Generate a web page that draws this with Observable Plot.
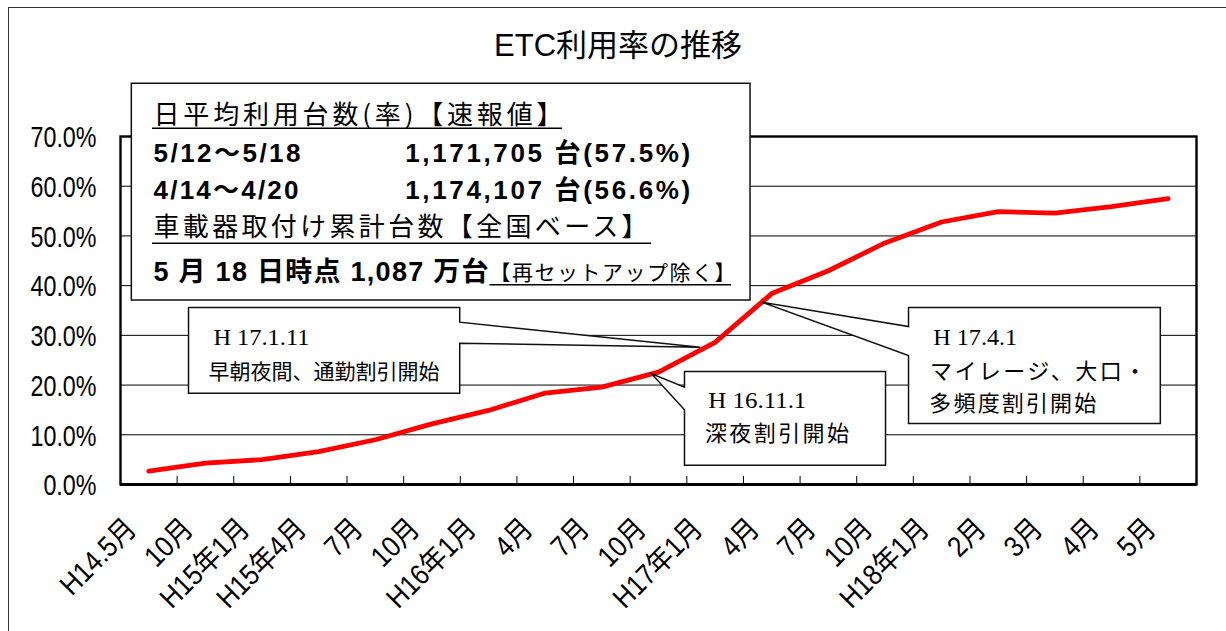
<!DOCTYPE html>
<html>
<head>
<meta charset="utf-8">
<script src="https://cdn.jsdelivr.net/npm/d3@7"></script>
<script src="https://cdn.jsdelivr.net/npm/@observablehq/plot@0.6"></script>
<style>
html, body { margin: 0; padding: 0; background: #fff; width: 1226px; height: 631px; overflow: hidden; }
#chart { position: absolute; left: 0; top: 0; }
#border { position: absolute; left: 8px; top: 7px; width: 1400px; height: 800px; border: 1.5px solid #333; pointer-events: none; }
</style>
</head>
<body>
<div id="chart"></div>
<div id="border"></div>
<script>
// ---------- data ----------
const categories = ["H14.5月","10月","H15年1月","H15年4月","7月","10月","H16年1月","4月","7月","10月","H17年1月","4月","7月","10月","H18年1月","2月","3月","4月","5月"];
const rates = [2.7, 4.3, 5.0, 6.6, 9.0, 12.2, 14.9, 18.4, 19.6, 22.6, 28.6, 38.4, 43.0, 48.6, 52.8, 54.9, 54.6, 55.9, 57.5];
const yTicks = [0, 10, 20, 30, 40, 50, 60, 70];
const chartTitle = "ETC利用率の推移";
const infoHeading = "日平均利用台数(率)【速報値】";
const weekPeriods = ["5/12～5/18", "4/14～4/20"];
const weekCounts = ["1,171,705 台(57.5%)", "1,174,107 台(56.6%)"];
const installHeading = "車載器取付け累計台数【全国ベース】";
const installTotal = "5 月 18 日時点 1,087 万台";
const installNote = "【再セットアップ除く】";
const calloutDates = ["H 17.1.11", "H 16.11.1", "H 17.4.1"];
const calloutNotes = [["早朝夜間、通勤割引開始"], ["深夜割引開始"], ["マイレージ、大口・", "多頻度割引開始"]];

// ---------- styling / layout ----------
const SANS = "'Liberation Sans','Noto Sans CJK JP',sans-serif";
const CJK = "'Noto Sans CJK JP','Liberation Sans',sans-serif";
const SERIF = "'Liberation Serif','Noto Sans CJK JP',serif";
const pct = d => d.toFixed(1) + "%";

// callout outlines in data units (x: category index units, y: percent)
const calloutShapes = [
  [[1.201,35.61],[5.99,35.61],[5.99,32.65],[10.235,27.62],[5.99,28.42],[5.99,18.37],[1.201,18.37],[1.201,35.61]],
  [[9.959,22.73],[13.509,22.73],[13.509,3.88],[9.959,3.88],[9.959,15.03],[9.377,22.27],[9.959,19.57],[9.959,22.73]],
  [[13.915,35.61],[18.361,35.61],[18.361,12.27],[13.915,12.27],[13.915,25.95],[11.326,36.67],[13.915,31.78],[13.915,35.61]]
];

const txt = (s, o) => Plot.text([s], {text: d => d, textAnchor: "start", lineAnchor: "bottom", fill: "#000", ...o});
const underline = (s, o) => Plot.ruleY([s], {stroke: "#000", strokeWidth: 1.5, ...o});

const plot = Plot.plot({
  width: 1226,
  height: 631,
  marginLeft: 120,
  marginRight: 30,
  marginTop: 136,
  marginBottom: 147,
  style: {background: "transparent", overflow: "visible"},
  x: {type: "linear", domain: [0, categories.length], axis: null},
  y: {type: "linear", domain: [0, 70], axis: null},
  marks: [
    Plot.ruleY(yTicks.filter(v => v > 0 && v < 70), {stroke: "#000", strokeWidth: 1}),
    Plot.frame({stroke: "#000", strokeWidth: 2.4}),
    Plot.ruleY([0], {stroke: "#000", strokeWidth: 3}),
    Plot.ruleX(categories.slice(1), {x: (d, i) => i + 1, y1: 0, y2: 1.6, stroke: "#000", strokeWidth: 1}),
    Plot.text(yTicks, {x: 0, y: d => d, text: pct, textAnchor: "end", dx: -24, dy: 1.5, fontSize: 28.9, fontFamily: SANS, fill: "#000"}),
    Plot.text(categories, {x: (d, i) => i + 0.5, y: 0, text: d => d, rotate: -45, textAnchor: "end", lineAnchor: "bottom", dx: -11, dy: 46, fontSize: 29, fontFamily: SANS, fill: "#000"}),
    // title
    txt(chartTitle, {x: 8.786, y: 86.1, textAnchor: "middle", fontSize: 31, fontFamily: SANS}),
    // info box
    Plot.rect([infoHeading], {x1: 0.20, x2: 11.125, y1: 37.01, y2: 80.61, fill: "white", stroke: "#111", strokeWidth: 1.5}),
    txt(infoHeading, {x: 0.583, y: 72.48, fontSize: 26, fontFamily: CJK}),
    underline(infoHeading, {y: 71.68, x1: 0.565, x2: 7.805}),
    txt(weekPeriods[0], {x: 0.583, y: 64.84, fontSize: 26, fontWeight: "bold", fontFamily: SANS}),
    txt(weekCounts[0], {x: 5.027, y: 64.84, fontSize: 26, fontWeight: "bold", fontFamily: SANS}),
    txt(weekPeriods[1], {x: 0.583, y: 57.47, fontSize: 26, fontWeight: "bold", fontFamily: SANS}),
    txt(weekCounts[1], {x: 5.027, y: 57.47, fontSize: 26, fontWeight: "bold", fontFamily: SANS}),
    txt(installHeading, {x: 0.583, y: 49.99, fontSize: 26, fontFamily: CJK}),
    underline(installHeading, {y: 48.54, x1: 0.565, x2: 9.377}),
    txt(installTotal, {x: 0.583, y: 40.84, fontSize: 27, fontWeight: "bold", fontFamily: SANS}),
    txt(installNote, {x: 6.516, y: 41.14, fontSize: 21, fontFamily: CJK}),
    underline(installNote, {y: 40.17, x1: 6.525, x2: 10.79}),
    // data line
    Plot.line(rates, {x: (d, i) => i + 0.5, y: d => d, stroke: "#ff0000", strokeWidth: 4.8, strokeLinecap: "round", strokeLinejoin: "round"}),
    // callouts
    ...calloutShapes.map(shape => Plot.line(shape, {x: d => d[0], y: d => d[1], fill: "white", stroke: "#111", strokeWidth: 1.5, strokeLinejoin: "miter", strokeMiterlimit: 10})),
    txt(calloutDates[0], {x: 1.640, y: 28.16, fontSize: 23, fontFamily: SERIF}),
    txt(calloutNotes[0][0], {x: 1.554, y: 21.32, fontSize: 21, fontFamily: CJK}),
    txt(calloutDates[1], {x: 10.38, y: 15.43, fontSize: 23, fontFamily: SERIF}),
    txt(calloutNotes[1][0], {x: 10.32, y: 8.65, fontSize: 22, fontFamily: CJK}),
    txt(calloutDates[2], {x: 14.351, y: 28.16, fontSize: 23, fontFamily: SERIF}),
    txt(calloutNotes[2][0], {x: 14.295, y: 21.22, fontSize: 22, fontFamily: CJK}),
    txt(calloutNotes[2][1], {x: 14.282, y: 14.69, fontSize: 22, fontFamily: CJK})
  ]
});

document.getElementById("chart").append(plot);

// match the reference text widths
const fit = new Map([
  [infoHeading, [409, "spacing"]],
  [weekPeriods[0], [147, "spacing"]],
  [weekPeriods[1], [145, "spacing"]],
  [weekCounts[0], [285, "spacing"]],
  [weekCounts[1], [285, "spacing"]],
  [installHeading, [494, "spacing"]],
  [installTotal, [335, "spacing"]],
  [installNote, [246, "spacing"]],
  [calloutDates[0], [96, "spacingAndGlyphs"]],
  [calloutDates[1], [98, "spacingAndGlyphs"]],
  [calloutDates[2], [84, "spacingAndGlyphs"]],
  [calloutNotes[0][0], [231, "spacing"]],
  [calloutNotes[1][0], [144, "spacing"]],
  [calloutNotes[2][0], [216, "spacing"]],
  [calloutNotes[2][1], [167, "spacing"]]
]);
const yLabelSet = new Set(yTicks.map(pct));
const xLabelSet = new Set(categories);
plot.querySelectorAll("text").forEach(t => {
  const s = t.textContent;
  const f = fit.get(s);
  if (f) {
    t.setAttribute("textLength", f[0]);
    t.setAttribute("lengthAdjust", f[1]);
  } else if (yLabelSet.has(s) || xLabelSet.has(s)) {
    const k = yLabelSet.has(s) ? 0.806 : 0.88;
    const L = t.getComputedTextLength();
    t.setAttribute("textLength", (L * k).toFixed(1));
    t.setAttribute("lengthAdjust", "spacingAndGlyphs");
  }
});
</script>
</body>
</html>
